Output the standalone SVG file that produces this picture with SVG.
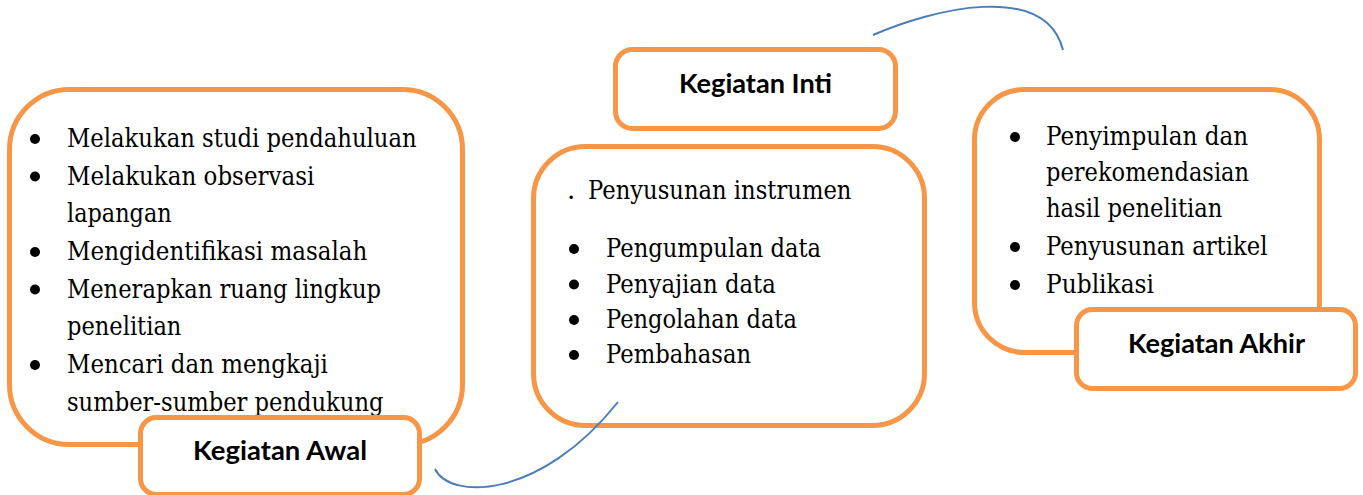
<svg xmlns="http://www.w3.org/2000/svg" width="1363" height="495" viewBox="0 0 1363 495">
  <style>
    .panel { fill: #ffffff; stroke: #f79646; stroke-width: 5; }
    .tag { fill: #ffffff; stroke: #f79646; stroke-width: 5; }
    .item { font-family: "DejaVu Serif", serif; font-size: 26px; fill: #000000; }
    .title { font-family: Lato, "Open Sans", sans-serif; font-weight: 700; font-size: 27px; fill: #000000; text-anchor: middle; }
    .dot { fill: #000000; }
    .link { fill: none; stroke: #4a7ebb; stroke-width: 2; }
  </style>
  <rect width="1363" height="495" fill="#ffffff"/>

  <!-- Kegiatan Awal -->
  <g id="awal">
    <rect class="panel" x="9.5" y="89.5" width="453" height="355" rx="60" ry="60"/>
    <g class="item">
      <text x="67" y="147" textLength="349.6" lengthAdjust="spacingAndGlyphs">Melakukan studi pendahuluan</text>
      <text x="67" y="184.5" textLength="247.3" lengthAdjust="spacingAndGlyphs">Melakukan observasi</text>
      <text x="67" y="222" textLength="104.7" lengthAdjust="spacingAndGlyphs">lapangan</text>
      <text x="67" y="260" textLength="300.4" lengthAdjust="spacingAndGlyphs">Mengidentifikasi masalah</text>
      <text x="67" y="297.5" textLength="314.1" lengthAdjust="spacingAndGlyphs">Menerapkan ruang lingkup</text>
      <text x="67" y="335" textLength="114.4" lengthAdjust="spacingAndGlyphs">penelitian</text>
      <text x="67" y="373" textLength="260.9" lengthAdjust="spacingAndGlyphs">Mencari dan mengkaji</text>
      <text x="67" y="410.5" textLength="316.5" lengthAdjust="spacingAndGlyphs">sumber-sumber pendukung</text>
    </g>
    <g class="dot">
      <circle cx="35" cy="139" r="5"/>
      <circle cx="35" cy="176.5" r="5"/>
      <circle cx="35" cy="252" r="5"/>
      <circle cx="35" cy="289.5" r="5"/>
      <circle cx="35" cy="365" r="5"/>
    </g>
    <rect class="tag" x="140.5" y="417.5" width="279" height="77" rx="16" ry="16"/>
    <text class="title" x="280" y="460" textLength="174" lengthAdjust="spacingAndGlyphs">Kegiatan Awal</text>
  </g>

  <!-- Kegiatan Inti -->
  <g id="inti">
    <rect class="tag" x="615.5" y="49.5" width="280" height="79" rx="17" ry="17"/>
    <text class="title" x="755.5" y="93" textLength="153" lengthAdjust="spacingAndGlyphs">Kegiatan Inti</text>
    <rect class="panel" x="533.5" y="146.5" width="391" height="279" rx="52" ry="52"/>
    <g class="item">
      <text x="567" y="199">.</text>
      <text x="588" y="199" textLength="263.4" lengthAdjust="spacingAndGlyphs">Penyusunan instrumen</text>
      <text x="606" y="257" textLength="215.1" lengthAdjust="spacingAndGlyphs">Pengumpulan data</text>
      <text x="606" y="292.5" textLength="169.9" lengthAdjust="spacingAndGlyphs">Penyajian data</text>
      <text x="606" y="328" textLength="190.9" lengthAdjust="spacingAndGlyphs">Pengolahan data</text>
      <text x="606" y="363" textLength="145" lengthAdjust="spacingAndGlyphs">Pembahasan</text>
    </g>
    <g class="dot">
      <circle cx="574" cy="249" r="5"/>
      <circle cx="574" cy="284.5" r="5"/>
      <circle cx="574" cy="320" r="5"/>
      <circle cx="574" cy="355" r="5"/>
    </g>
  </g>

  <!-- Kegiatan Akhir -->
  <g id="akhir">
    <rect class="panel" x="974.5" y="89.5" width="345" height="263" rx="50" ry="50"/>
    <g class="item">
      <text x="1046" y="145" textLength="202.2" lengthAdjust="spacingAndGlyphs">Penyimpulan dan</text>
      <text x="1046" y="180.5" textLength="203.1" lengthAdjust="spacingAndGlyphs">perekomendasian</text>
      <text x="1046" y="217" textLength="176.4" lengthAdjust="spacingAndGlyphs">hasil penelitian</text>
      <text x="1046" y="255" textLength="221.5" lengthAdjust="spacingAndGlyphs">Penyusunan artikel</text>
      <text x="1046" y="293" textLength="108" lengthAdjust="spacingAndGlyphs">Publikasi</text>
    </g>
    <g class="dot">
      <circle cx="1015" cy="137" r="5"/>
      <circle cx="1015" cy="247" r="5"/>
      <circle cx="1015" cy="285" r="5"/>
    </g>
    <rect class="tag" x="1076.5" y="309.5" width="279" height="79" rx="16" ry="16"/>
    <text class="title" x="1216.5" y="353" textLength="177" lengthAdjust="spacingAndGlyphs">Kegiatan Akhir</text>
  </g>

  <!-- curved connectors -->
  <g id="connectors">
    <path class="link" d="M435,469 C450,500 540,500 618,402"/>
    <path class="link" d="M873,35 C930,10 1045,-20 1063,50"/>
  </g>
</svg>
